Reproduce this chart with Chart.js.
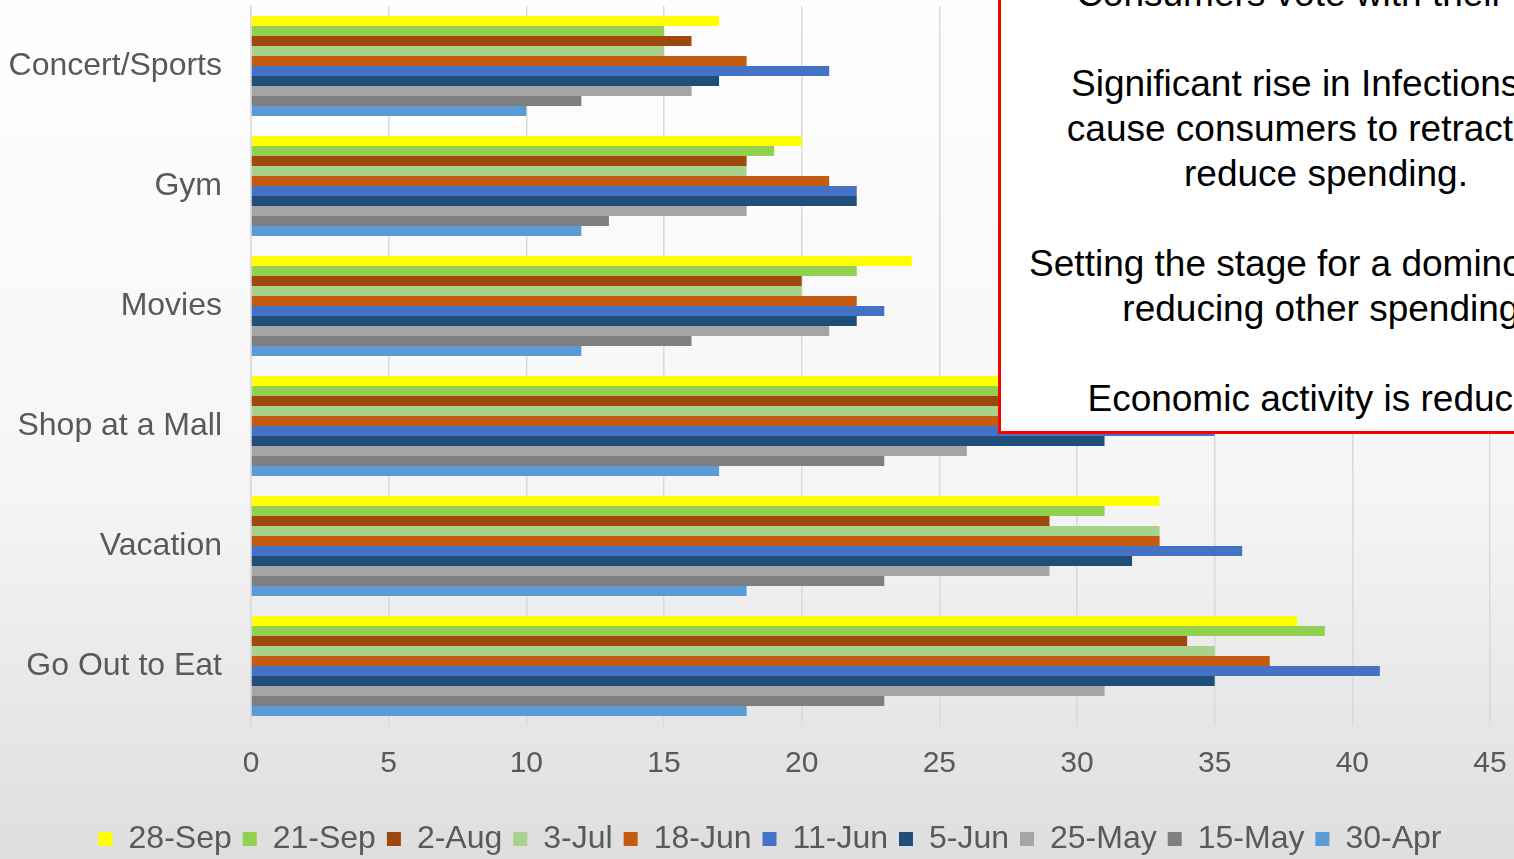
<!DOCTYPE html>
<html>
<head>
<meta charset="utf-8">
<script src="https://cdn.jsdelivr.net/npm/chart.js@4/dist/chart.umd.min.js"></script>
<style>
  html, body { margin: 0; padding: 0; }
  body {
    width: 1514px; height: 859px; overflow: hidden; position: relative;
    background: linear-gradient(to bottom, #fefefe 0%, #f6f6f6 55%, #dedede 100%);
    font-family: "Liberation Sans", Arial, sans-serif;
  }
  #wrap { position: absolute; left: 0; top: 0; width: 1514px; height: 859px; }
  .note {
    position: absolute; left: 998px; top: -40px; width: 656px; height: 474px;
    box-sizing: border-box; background: #fff; border: 3px solid #ff0000;
    color: #000; font-size: 37px; line-height: 45px; text-align: center;
    padding-top: 8px;
  }
  .note p { margin: 0 0 45px 0; }
</style>
</head>
<body>
<div id="wrap"><canvas id="chart" width="1514" height="859"></canvas></div>
<div class="note">
  <p>Consumers vote with their feet</p>
  <p>Significant rise in Infections will<br>cause consumers to retract and<br>reduce spending.</p>
  <p>Setting the stage for a domino effect<br>reducing other spending.</p>
  <p>Economic activity is reduced.</p>
</div>
<script>
document.addEventListener('DOMContentLoaded', () => {
    // Kategoriler ve seriler
    const categories = ['Concert/Sports', 'Gym', 'Movies', 'Shop at a Mall', 'Vacation', 'Go Out to Eat'];
    const seriesNames = ['28-Sep', '21-Sep', '2-Aug', '3-Jul', '18-Jun', '11-Jun', '5-Jun', '25-May', '15-May', '30-Apr'];
    const seriesColors = ['#ffff00', '#92d050', '#9e480e', '#a9d18e', '#c55a11', '#4472c4', '#1f4e79', '#a5a5a5', '#7f7f7f', '#5b9bd5'];

    const sep28 = [17, 20, 24, 30, 33, 38];
    const sep21 = [15, 19, 22, 29, 31, 39];
    const aug2  = [16, 18, 20, 28, 29, 34];
    const jul3  = [15, 18, 20, 28, 33, 35];
    const jun18 = [18, 21, 22, 30, 33, 37];
    const jun11 = [21, 22, 23, 35, 36, 41];
    const jun5  = [17, 22, 22, 31, 32, 35];
    const may25 = [16, 18, 21, 26, 29, 31];
    const may15 = [12, 13, 16, 23, 23, 23];
    const apr30 = [10, 12, 12, 17, 18, 18];

    const seriesValues = [sep28, sep21, aug2, jul3, jun18, jun11, jun5, may25, may15, apr30];

    const tickColor = '#595959';
    const font = 'Liberation Sans';

    // Lejantı biraz sağa kaydır
    const legendShift = {
        id: 'legendShift',
        afterLayout(chart) {
            if (chart.legend) chart.legend.left += 50;
        }
    };

    new Chart(document.getElementById('chart'), {
        type: 'bar',
        data: {
            labels: categories,
            datasets: seriesNames.map((name, i) => ({
                label: name,
                data: seriesValues[i],
                backgroundColor: seriesColors[i],
                borderWidth: 0,
                barPercentage: 1,
                categoryPercentage: 0.834
            }))
        },
        options: {
            indexAxis: 'y',
            responsive: false,
            animation: false,
            layout: { padding: { top: 6, right: 24, bottom: -6, left: 0 } },
            scales: {
                x: {
                    min: 0, max: 45,
                    ticks: { stepSize: 5, color: tickColor, font: { family: font, size: 30 }, padding: 20 },
                    grid: { color: '#d9d9d9', lineWidth: 1.5, drawTicks: false },
                    border: { display: false },
                    afterFit: (scale) => {
                        scale.height = 86;
                        scale.paddingLeft = 0;
                        scale.paddingRight = 0;
                    }
                },
                y: {
                    ticks: { color: tickColor, font: { family: font, size: 32 }, padding: 29 },
                    grid: { display: false, drawTicks: false },
                    border: { color: '#d9d9d9', width: 1.5 },
                    afterFit: (scale) => {
                        scale.width = 251;
                        scale.paddingTop = 0;
                        scale.paddingBottom = 0;
                    }
                }
            },
            plugins: {
                legend: {
                    position: 'bottom',
                    labels: {
                        color: tickColor,
                        font: { family: font, size: 32 },
                        boxWidth: 14, boxHeight: 14,
                        padding: 11
                    }
                },
                tooltip: { enabled: false }
            }
        },
        plugins: [legendShift]
    });
});
</script>
</body>
</html>
